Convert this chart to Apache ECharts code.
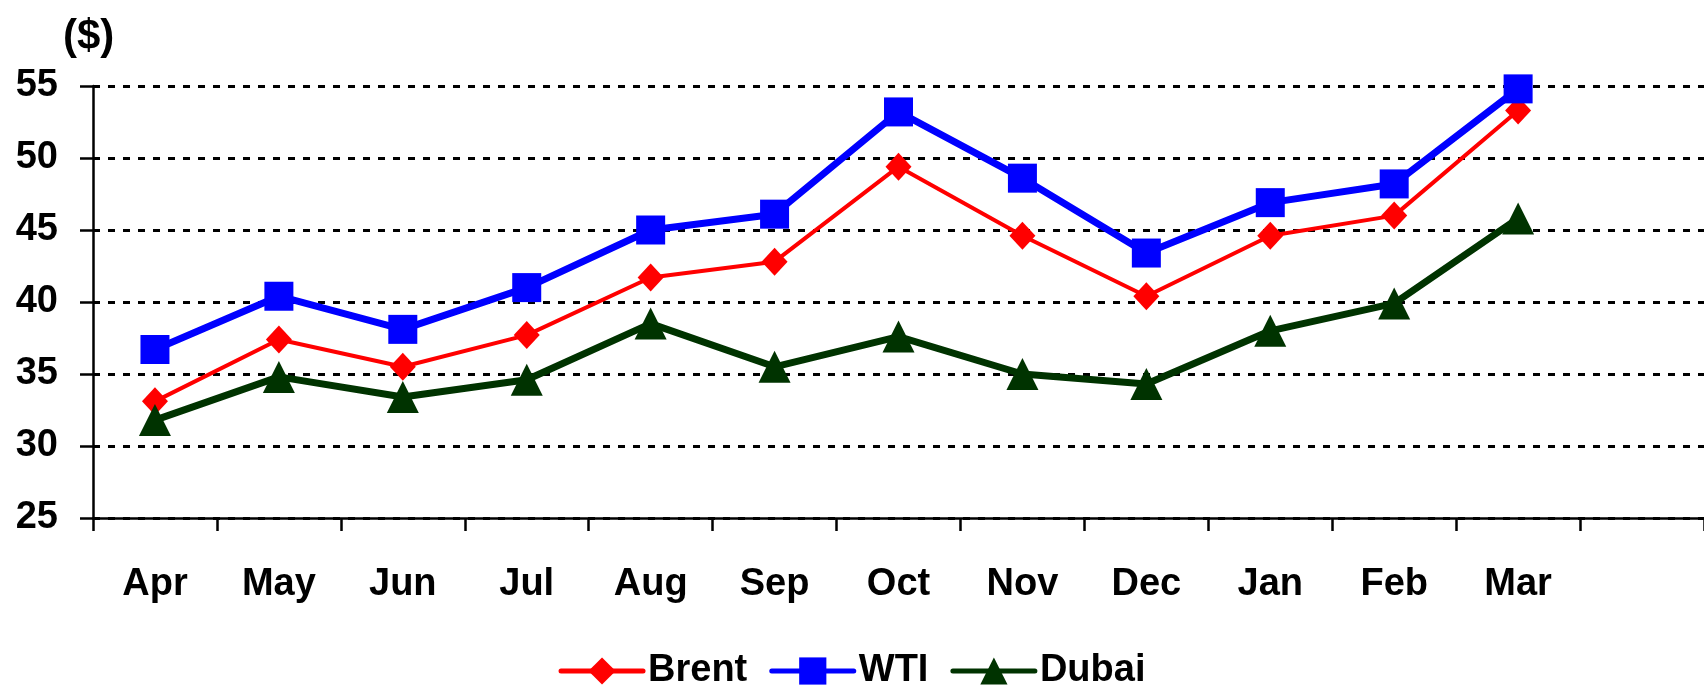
<!DOCTYPE html>
<html>
<head>
<meta charset="utf-8">
<script src="https://cdn.jsdelivr.net/npm/echarts@6/dist/echarts.min.js"></script>
<style>
  html, body { margin: 0; padding: 0; background: #fff; }
  #chart { width: 1704px; height: 687px; }
</style>
</head>
<body>
<div id="chart"></div>
<script>
// months (last slot is empty, the plot runs one step past Mar)
var months = ['Apr', 'May', 'Jun', 'Jul', 'Aug', 'Sep', 'Oct', 'Nov', 'Dec', 'Jan', 'Feb', 'Mar', ''];
var brent = [33.1, 37.4, 35.5, 37.7, 41.7, 42.8, 49.4, 44.6, 40.4, 44.6, 46.0, 53.3];
var wti   = [36.7, 40.4, 38.1, 41.0, 45.0, 46.1, 53.2, 48.6, 43.4, 46.9, 48.2, 54.8];
var dubai = [31.8, 34.8, 33.4, 34.6, 38.5, 35.5, 37.6, 35.0, 34.3, 38.0, 39.9, 45.8];
var yTicks = [25, 30, 35, 40, 45, 50, 55];

var font = "'Liberation Sans', Arial, sans-serif";

var myChart = echarts.init(document.getElementById('chart'));

var option = {
    animation: false,
    backgroundColor: '#fff',
    title: {
        text: '($)',
        left: 58,
        top: 11,
        textStyle: {
            color: '#000',
            fontFamily: font,
            fontWeight: 'bold',
            fontSize: 42
        }
    },
    legend: {
        top: 647,
        left: 'center',
        itemWidth: 82,
        itemHeight: 34,
        itemGap: 22,
        lineStyle: { width: 5, cap: 'round' },
        textStyle: {
            color: '#000',
            fontFamily: font,
            fontWeight: 'bold',
            fontSize: 38
        },
        data: ['Brent', 'WTI', 'Dubai']
    },
    grid: {
        left: 93,
        top: 86,
        width: 1620,
        height: 432
    },
    xAxis: {
        type: 'category',
        data: months,
        boundaryGap: true,
        axisLine: { lineStyle: { color: '#000', width: 2.5 } },
        axisTick: { show: true, interval: 0, length: 13, lineStyle: { color: '#000', width: 2.5 } },
        axisLabel: {
            interval: 0,
            margin: 48,
            color: '#000',
            fontFamily: font,
            fontWeight: 'bold',
            fontSize: 38
        },
        splitLine: { show: false }
    },
    yAxis: {
        type: 'value',
        min: yTicks[0],
        max: yTicks[yTicks.length - 1],
        interval: 5,
        axisLine: { show: true, lineStyle: { color: '#000', width: 2.5 } },
        axisTick: { show: true, length: 13, lineStyle: { color: '#000', width: 2.5 } },
        axisLabel: {
            margin: 35,
            color: '#000',
            fontFamily: font,
            fontWeight: 'bold',
            fontSize: 38
        },
        splitLine: {
            show: true,
            lineStyle: { color: '#000', width: 3, type: [7, 8] }
        }
    },
    series: [
        {
            name: 'Brent',
            type: 'line',
            data: brent,
            symbol: 'diamond',
            symbolSize: [26, 28],
            lineStyle: { color: '#ff0000', width: 4 },
            itemStyle: { color: '#ff0000' }
        },
        {
            name: 'WTI',
            type: 'line',
            data: wti,
            symbol: 'rect',
            symbolSize: 29,
            lineStyle: { color: '#0000ff', width: 7 },
            itemStyle: { color: '#0000ff' }
        },
        {
            name: 'Dubai',
            type: 'line',
            data: dubai,
            symbol: 'triangle',
            symbolSize: [32, 32],
            lineStyle: { color: '#003300', width: 7 },
            itemStyle: { color: '#003300' }
        }
    ]
};

myChart.setOption(option);
</script>
</body>
</html>
